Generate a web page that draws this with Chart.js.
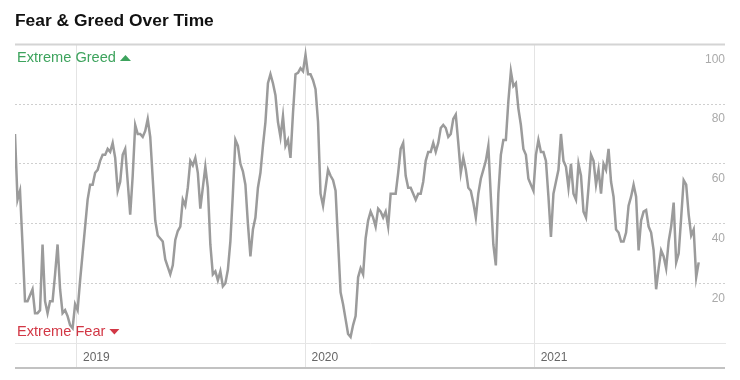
<!DOCTYPE html>
<html>
<head>
<meta charset="utf-8">
<script src="https://cdn.jsdelivr.net/npm/chart.js@4/dist/chart.umd.min.js"></script>
<style>
  html, body { margin: 0; padding: 0; background: #fff; }
  #wrap { width: 740px; height: 380px; position: relative; }
</style>
</head>
<body>
<div id="wrap"><canvas id="c"></canvas></div>
<script>
// ---- data ----
const startDate = Date.UTC(2018, 8, 24);   // first sample (2018-09-24)
const endDate = Date.UTC(2021, 10, 1);     // right edge of the axis
const stepDays = 4;                        // one reading every 4 days
const fearGreed = [
  70, 48, 51, 33, 14, 14, 16, 18, 10, 10, 11, 33, 14, 10, 14, 14, 23, 33, 18, 10,
  11, 9, 6, 5, 13, 11, 21, 30, 39, 48, 53, 53, 57, 58, 61, 63, 63, 65, 64, 67,
  62, 51, 54, 63, 65, 54, 43, 56, 73, 70, 70, 69, 71, 75, 69, 55, 41, 36, 35, 34,
  28, 25.5, 23, 26, 34.5, 37.5, 39, 48, 46, 52, 61, 59.5, 62, 57, 45, 52, 59, 52, 33, 23,
  24, 21, 24, 19, 20, 24.5, 34, 50, 68, 66, 60, 57.5, 53, 40, 29, 38, 42, 52, 57, 66,
  74, 87, 90, 87, 83, 74, 69, 76, 66, 68, 62, 77, 90, 90.5, 92, 91, 96.5, 90, 90, 88,
  85, 74, 50, 46, 52, 58, 56, 54.5, 51, 34, 17, 13, 8, 3, 2, 6, 9, 22, 25, 23,
  35, 41, 44, 42, 39, 45, 44, 42, 44, 39, 50, 50, 50, 57, 65, 67, 56, 52, 52, 50,
  48, 50, 50, 54, 61, 64, 64, 67, 64, 67, 72, 73, 72, 69, 70, 75, 76.5, 67, 57, 62,
  58, 52, 51, 47, 42, 50, 55, 58, 61, 66, 49, 33, 26, 50, 63, 68, 68, 81, 91, 86,
  87, 78.5, 73, 65, 63, 55, 53, 51, 63, 68, 64, 64, 61, 49, 35.5, 50, 54, 58, 70, 61,
  59, 52, 60, 50, 48, 60, 56, 44, 42, 52, 63, 61, 53, 58, 50, 60, 58, 65, 54, 49,
  38, 37, 34, 34, 37, 46, 49, 53, 49, 31, 41, 44, 44.5, 39, 37, 31, 18, 25, 31, 29,
  25, 34, 39, 47, 27, 30, 42, 54.5, 53, 43, 36, 38, 22, 27
];
const yearTicks = [2019, 2020, 2021];
const valueTicks = [0, 20, 40, 60, 80, 100];
const titleText = 'Fear & Greed Over Time';
const greedLabel = 'Extreme Greed';
const fearLabel = 'Extreme Fear';

// ---- chart ----
Chart.defaults.font.family = "'Liberation Sans', Arial, Helvetica, sans-serif";
const DAY = 86400000;
const points = fearGreed.map((v, i) => ({ x: startDate + i * stepDays * DAY, y: v }));

const decorations = {
  id: 'decorations',
  beforeDatasetsDraw(chart) {
    const { ctx, chartArea } = chart;
    const L = chartArea.left, R = chartArea.right, T = chartArea.top, B = chartArea.bottom;
    ctx.save();
    // top rule
    ctx.strokeStyle = '#d4d4d4';
    ctx.lineWidth = 2;
    ctx.beginPath(); ctx.moveTo(L, T); ctx.lineTo(R, T); ctx.stroke();
    // bottom rule
    ctx.strokeStyle = '#c2c2c2';
    ctx.beginPath(); ctx.moveTo(L, B + 25); ctx.lineTo(R, B + 25); ctx.stroke();

    // labels
    ctx.font = "14.6px 'Liberation Sans', Arial, sans-serif";
    ctx.textBaseline = 'middle';
    ctx.textAlign = 'left';
    const yS = chart.scales.y;
    // Extreme Greed
    const gy = yS.getPixelForValue(100) + 13.5;
    ctx.fillStyle = '#3da35d';
    ctx.fillText(greedLabel, L + 2, gy);
    let w = ctx.measureText(greedLabel).width;
    let tx = L + 2 + w + 4;
    ctx.beginPath();
    ctx.moveTo(tx, gy + 3); ctx.lineTo(tx + 11, gy + 3); ctx.lineTo(tx + 5.5, gy - 3); ctx.closePath();
    ctx.fill();
    // Extreme Fear
    const fy = yS.getPixelForValue(0) - 11.5;
    ctx.fillStyle = '#d23745';
    ctx.fillText(fearLabel, L + 2, fy);
    w = ctx.measureText(fearLabel).width;
    tx = L + 2 + w + 4;
    ctx.beginPath();
    ctx.moveTo(tx, fy - 2.5); ctx.lineTo(tx + 10, fy - 2.5); ctx.lineTo(tx + 5, fy + 3); ctx.closePath();
    ctx.fill();
    ctx.restore();
  }
};

new Chart(document.getElementById('c'), {
  type: 'line',
  data: {
    datasets: [{
      data: points,
      borderColor: '#9b9b9b',
      borderWidth: 2.5,
      pointRadius: 0,
      pointHoverRadius: 0,
      tension: 0,
      fill: false
    }]
  },
  options: {
    responsive: true,
    maintainAspectRatio: false,
    animation: false,
    events: [],
    layout: { padding: { left: 15, right: 15, top: 0, bottom: 0 } },
    plugins: {
      legend: { display: false },
      tooltip: { enabled: false },
      title: {
        display: true,
        text: titleText,
        align: 'start',
        color: '#111',
        font: { size: 17.4, weight: 'bold' },
        padding: { top: 10.5, bottom: 13 }
      }
    },
    scales: {
      x: {
        type: 'linear',
        min: startDate,
        max: endDate,
        afterBuildTicks(scale) {
          scale.ticks = yearTicks.map(y => ({ value: Date.UTC(y, 0, 1) }));
        },
        afterFit(scale) { scale.height = 37; },
        grid: {
          color: '#e4e4e4',
          lineWidth: 1,
          drawTicks: true,
          tickLength: 25,
          tickColor: '#e4e4e4'
        },
        border: { display: true, color: '#e6e6e6', width: 1 },
        ticks: {
          autoSkip: false,
          maxRotation: 0,
          align: 'start',
          labelOffset: 6,
          padding: -18,
          color: '#666',
          font: { size: 12 },
          callback: (v) => String(new Date(v).getUTCFullYear())
        }
      },
      y: {
        position: 'right',
        min: 0,
        max: 100,
        afterBuildTicks(scale) {
          scale.ticks = valueTicks.map(v => ({ value: v }));
        },
        afterFit(scale) { scale.width = 0; },
        grid: {
          drawTicks: false,
          lineWidth: 1,
          color: (ctx) => (ctx.tick && (ctx.tick.value === 0 || ctx.tick.value === 100)) ? 'rgba(0,0,0,0)' : '#cfcfcf'
        },
        border: { display: false, dash: [2, 2] },
        ticks: {
          mirror: true,
          padding: 0,
          labelOffset: 15,
          color: '#aaa',
          font: { size: 12 },
          callback: (v) => v === 0 ? '' : String(v)
        }
      }
    }
  },
  plugins: [decorations]
});
</script>
</body>
</html>
